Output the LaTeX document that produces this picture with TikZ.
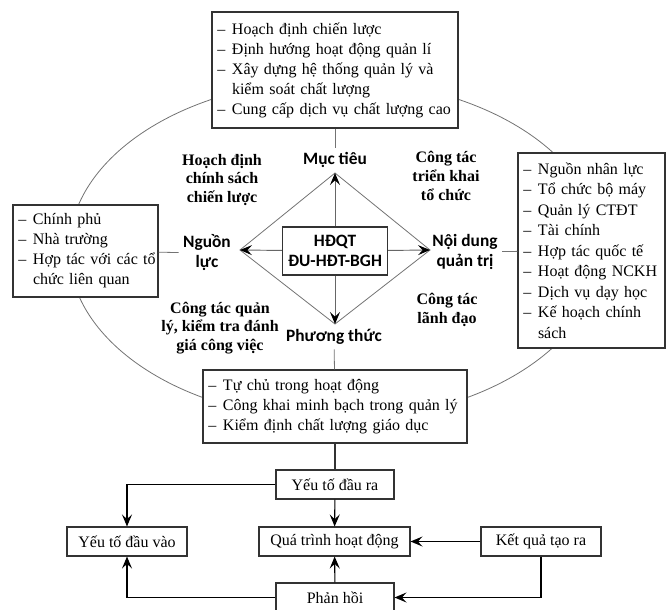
\documentclass[tikz,border=0pt]{standalone}
\usepackage{fontspec}
\setmainfont{Liberation Serif}
\newfontfamily\labelfont{Carlito}
\usetikzlibrary{arrows.meta}
\newcommand{\gach}{–\hspace{5pt}}

\begin{document}
\begin{tikzpicture}[x=0.75pt,y=-0.75pt,>={Stealth[length=9pt,width=7.5pt,inset=3.5pt]},
  list box/.style={draw=black!80,fill=white,line width=0.8pt,align=left,inner xsep=4pt,inner ysep=2pt,font=\fontsize{12}{15}\selectfont},
  flow box/.style={draw=black!80,fill=white,line width=0.8pt,minimum height=21.75pt,inner sep=0pt,font=\fontsize{12}{15}\selectfont},
  sans label/.style={align=center,font=\labelfont\bfseries\fontsize{13}{15}\selectfont},
  serif label/.style={align=center,font=\bfseries\fontsize{12}{14}\selectfont},
  thin line/.style={draw=black!55,line width=0.6pt},
  gray arrow/.style={-{Stealth[length=9pt,width=7.5pt,inset=3.5pt,color=black]},draw=black!60,line width=0.7pt}]

  \useasboundingbox (0,0) rectangle (671,610);

  % vong ellipse
  \draw[thin line] (335,250) ellipse [x radius=199.5pt, y radius=127.5pt];

  % hinh thoi
  \coordinate (d1) at (335,173);
  \coordinate (d2) at (240,250);
  \coordinate (d3) at (430,250);
  \coordinate (d4) at (335,324);
  \draw[thin line] (d1) -- (d3) -- (d4) -- (d2) -- cycle;

  \node[draw=black!80,fill=white,line width=0.8pt,minimum width=78.75pt,minimum height=36pt,inner sep=1pt,
    sans label] (c) at (335,251) {HĐQT\\ĐU-HĐT-BGH};

  \draw[gray arrow] (c) -- (d1);
  \draw[gray arrow] (c) -- (d2);
  \draw[gray arrow] (c) -- (d3);
  \draw[gray arrow] (c) -- (d4);

  \node[sans label] (l1) at (335,160) {Mục tiêu};
  \node[sans label] (l2) at (207,253) {Nguồn\\lực};
  \node[sans label] (l3) at (465,252) {Nội dung\\quản trị};
  \node[sans label] (l4) at (334,337) {Phương thức};

  \node[serif label] (t1) at (222,180) {Hoạch định\\chính sách\\chiến lược};
  \node[serif label] (t2) at (446,176) {Công tác\\triển khai\\tổ chức};
  \node[serif label] (t3) at (220,328) {Công tác quản\\lý, kiểm tra đánh\\giá công việc};
  \node[serif label] (t4) at (447,310) {Công tác\\lãnh đạo};

  \node[list box,text width=176.5pt,minimum height=87pt] (b1) at (335,70)
    {\gach Hoạch định chiến lược\\
     \gach Định hướng hoạt động quản lí\\
     \gach Xây dựng hệ thống quản lý và\\
     \phantom{\gach}kiểm soát chất lượng\\
     \gach Cung cấp dịch vụ chất lượng cao};
  \node[list box,text width=100.75pt,minimum height=69pt] (b2) at (85.5,251)
    {\gach Chính phủ\\
     \gach Nhà trường\\
     \mbox{\gach Hợp tác với các tổ}\\
     \phantom{\gach}chức liên quan};
  \node[list box,text width=102.25pt,minimum height=146.25pt,font=\fontsize{12}{15.4}\selectfont] (b3) at (591.5,250.5)
    {\gach Nguồn nhân lực\\
     \gach Tổ chức bộ máy\\
     \gach Quản lý CTĐT\\
     \gach Tài chính\\
     \gach Hợp tác quốc tế\\
     \gach Hoạt động NCKH\\
     \gach Dịch vụ dạy học\\
     \gach Kế hoạch chính\\
     \phantom{\gach}sách};
  \node[list box,text width=190pt,minimum height=54.75pt] (b4) at (335,406.5)
    {\gach Tự chủ trong hoạt động\\
     \gach Công khai minh bạch trong quản lý\\
     \gach Kiểm định chất lượng giáo dục};

  \draw[thin line] (b1) -- (l1);
  \draw[thin line] (b2) -- (l2);
  \draw[thin line] (b3) -- (l3);
  \draw[thin line] (b4) -- (l4);

  % chu trinh phia duoi
  \node[flow box,minimum width=88.5pt] (k1) at (335,484.5) {Yếu tố đầu ra};
  \node[flow box,minimum width=90pt] (k2) at (127,541.5) {Yếu tố đầu vào};
  \node[flow box,minimum width=113.25pt] (k3) at (334.5,541.5) {Quá trình hoạt động};
  \node[flow box,minimum width=90pt] (k4) at (541,541.5) {Kết quả tạo ra};
  \node[flow box,minimum width=88.5pt] (k5) at (335,597.5) {Phản hồi};

  \draw[draw=black!80,line width=0.8pt] (b4) -- (k1);
  \draw[->,line width=0.8pt] (k1.west) -| (k2.north);
  \draw[->,line width=0.8pt] (k1) -- (k3);
  \draw[->,line width=0.8pt] (k4) -- (k3);
  \draw[->,line width=0.8pt] (k4.south) |- (k5.east);
  \draw[->,line width=0.8pt] (k5) -- (k3);
  \draw[->,line width=0.8pt] (k5.west) -| (k2.south);
\end{tikzpicture}
\end{document}
